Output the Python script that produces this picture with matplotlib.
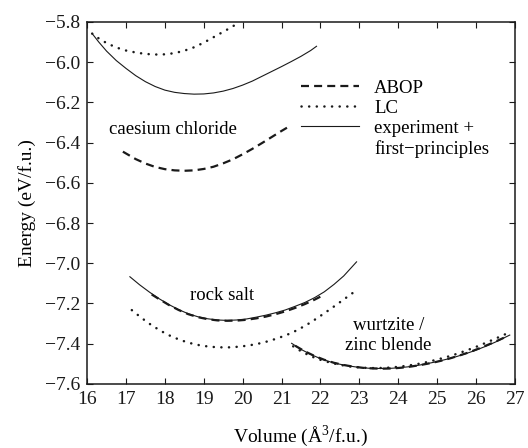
import numpy as np
import matplotlib
matplotlib.use('Agg')
import matplotlib.pyplot as plt
from matplotlib.lines import Line2D

# caesium chloride
cscl_v_abop = [16.92, 17.25, 17.5, 17.75, 18.0, 18.25, 18.5, 18.75, 19.0, 19.25,
               19.5, 19.75, 20.0, 20.25, 20.5, 20.75, 21.0, 21.14]
cscl_e_abop = [-6.445, -6.482, -6.504, -6.521, -6.532, -6.538, -6.540, -6.538, -6.531, -6.520,
               -6.503, -6.483, -6.458, -6.431, -6.402, -6.372, -6.342, -6.326]
cscl_v_lc = [16.13, 16.3, 16.5, 16.75, 17.0, 17.25, 17.5, 17.75, 18.0, 18.25,
             18.5, 18.75, 19.0, 19.25, 19.5, 19.75, 19.9]
cscl_e_lc = [-5.858, -5.882, -5.905, -5.927, -5.942, -5.952, -5.959, -5.962, -5.961, -5.955,
             -5.943, -5.926, -5.903, -5.876, -5.849, -5.822, -5.80]
cscl_v_exp = [16.13, 16.3, 16.5, 16.75, 17.0, 17.25, 17.5, 17.75, 18.0, 18.25, 18.5, 18.75,
              19.0, 19.25, 19.5, 19.75, 20.0, 20.25, 20.5, 20.75, 21.0, 21.25, 21.5, 21.75, 21.9]
cscl_e_exp = [-5.858, -5.900, -5.945, -5.992, -6.031, -6.067, -6.097, -6.121, -6.139, -6.150,
              -6.156, -6.159, -6.158, -6.153, -6.144, -6.131, -6.114, -6.094, -6.070, -6.046,
              -6.022, -5.997, -5.971, -5.942, -5.921]

# rock salt
rs_v_abop = [17.66, 17.85, 18.1, 18.35, 18.6, 18.85, 19.1, 19.35, 19.6, 19.85,
             20.1, 20.35, 20.6, 20.85, 21.1, 21.35, 21.6, 21.85, 22.03]
rs_e_abop = [-7.155, -7.178, -7.207, -7.232, -7.253, -7.268, -7.278, -7.284, -7.286, -7.285,
             -7.281, -7.274, -7.265, -7.253, -7.239, -7.222, -7.203, -7.181, -7.163]
rs_v_lc = [17.15, 17.4, 17.65, 17.9, 18.15, 18.4, 18.65, 18.9, 19.15, 19.4, 19.65, 19.9,
           20.15, 20.4, 20.65, 20.9, 21.15, 21.4, 21.65, 21.9, 22.15, 22.4, 22.65, 22.85]
rs_e_lc = [-7.233, -7.272, -7.307, -7.337, -7.362, -7.382, -7.397, -7.408, -7.415, -7.418,
           -7.418, -7.415, -7.409, -7.400, -7.388, -7.373, -7.355, -7.333, -7.306, -7.275,
           -7.242, -7.208, -7.173, -7.145]
rs_v_exp = [17.1, 17.35, 17.6, 17.85, 18.1, 18.35, 18.6, 18.85, 19.1, 19.35, 19.6, 19.85,
            20.1, 20.35, 20.6, 20.85, 21.1, 21.35, 21.6, 21.85, 22.1, 22.35, 22.6, 22.93]
rs_e_exp = [-7.067, -7.107, -7.143, -7.176, -7.205, -7.230, -7.251, -7.266, -7.276, -7.282,
            -7.284, -7.282, -7.277, -7.268, -7.258, -7.246, -7.232, -7.214, -7.195, -7.171,
            -7.142, -7.105, -7.063, -6.993]

# wurtzite / zinc blende
wz_v_abop = [21.35, 21.6, 21.85, 22.1, 22.35, 22.6, 22.85, 23.1, 23.35, 23.6, 23.85, 24.1,
             24.35, 24.6, 24.85, 25.1, 25.35, 25.6, 25.85, 26.1, 26.35, 26.6, 26.8]
wz_e_abop = [-7.410, -7.438, -7.461, -7.480, -7.495, -7.506, -7.514, -7.520, -7.523, -7.524,
             -7.523, -7.519, -7.513, -7.505, -7.496, -7.485, -7.472, -7.457, -7.441, -7.422,
             -7.402, -7.381, -7.363]
wz_v_lc = [21.3, 21.5, 21.75, 22.0, 22.25, 22.5, 22.75, 23.0, 23.25, 23.5, 23.75, 24.0,
           24.25, 24.5, 24.75, 25.0, 25.25, 25.5, 25.75, 26.0, 26.25, 26.5, 26.87]
wz_e_lc = [-7.413, -7.437, -7.462, -7.480, -7.494, -7.505, -7.513, -7.518, -7.521, -7.521,
           -7.519, -7.515, -7.509, -7.501, -7.491, -7.479, -7.466, -7.451, -7.434, -7.416,
           -7.396, -7.375, -7.343]
wz_v_exp = [21.26, 21.5, 21.75, 22.0, 22.25, 22.5, 22.75, 23.0, 23.25, 23.5, 23.75, 24.0,
            24.25, 24.5, 24.75, 25.0, 25.25, 25.5, 25.75, 26.0, 26.25, 26.5, 26.87]
wz_e_exp = [-7.398, -7.428, -7.453, -7.474, -7.490, -7.502, -7.511, -7.518, -7.522, -7.523,
            -7.523, -7.520, -7.515, -7.508, -7.499, -7.489, -7.477, -7.464, -7.449, -7.432,
            -7.413, -7.392, -7.357]

yticks = [-7.6, -7.4, -7.2, -7.0, -6.8, -6.6, -6.4, -6.2, -6.0, -5.8]
xticks = list(range(16, 28))

serif = ['Liberation Serif', 'DejaVu Serif']
plt.rcParams['font.family'] = serif
plt.rcParams['mathtext.fontset'] = 'custom'
plt.rcParams['mathtext.rm'] = 'Liberation Serif'
fs = 13.5
ink = '#1a1a1a'

dash = dict(color=ink, lw=1.6, linestyle=(0, (3.6, 2.3)))
dot = dict(color=ink, lw=1.8, linestyle=(0, (0.05, 3.0)), dash_capstyle='round')
solid = dict(color=ink, lw=0.8)

fig = plt.figure(figsize=(5.28, 4.48), dpi=100)
ax = fig.add_axes([0.165, 0.143, 0.81, 0.808])

ax.plot(cscl_v_abop, cscl_e_abop, **dash)
ax.plot(cscl_v_lc, cscl_e_lc, **dot)
ax.plot(cscl_v_exp, cscl_e_exp, **solid)
ax.plot(rs_v_abop, rs_e_abop, **dash)
ax.plot(rs_v_lc, rs_e_lc, **dot)
ax.plot(rs_v_exp, rs_e_exp, **solid)
ax.plot(wz_v_abop, wz_e_abop, **dash)
ax.plot(wz_v_lc, wz_e_lc, **dot)
ax.plot(wz_v_exp, wz_e_exp, **solid)

ax.text(16.56, -6.337, 'caesium chloride', fontsize=fs, va='center', ha='left')
ax.text(19.46, -7.158, 'rock salt', fontsize=fs, va='center', ha='center')
ax.text(23.75, -7.36, 'wurtzite /\nzinc blende', fontsize=fs, va='center', ha='center',
        multialignment='center', linespacing=1.25)

handles = [Line2D([], [], **dash), Line2D([], [], **dot), Line2D([], [], **solid),
           Line2D([], [], color='none')]
labels = ['ABOP', 'LC', 'experiment +', 'first\u2212principles']
ax.legend(handles, labels, loc='upper left', bbox_to_anchor=(0.5, 0.84), frameon=False,
          fontsize=fs, handlelength=3.1, handletextpad=0.8, labelspacing=0.15,
          borderpad=0, borderaxespad=0)

ax.set_xlim(16, 27)
ax.set_ylim(-7.6, -5.8)
ax.set_xticks(xticks)
ax.set_xticklabels([str(v) for v in xticks])
ax.set_yticks(yticks)
ax.set_yticklabels(['\u2212%.1f' % abs(v) for v in yticks])
ax.tick_params(direction='in', top=True, right=True, length=4, width=0.8,
               labelsize=fs + 0.5, colors=ink)
ax.tick_params(axis='x', pad=5)
ax.tick_params(axis='y', pad=5)
for lbl in ax.get_xticklabels() + ax.get_yticklabels():
    lbl.set_fontfamily(serif)
for s in ax.spines.values():
    s.set_linewidth(1.1)
    s.set_color(ink)

ax.set_xlabel('Volume (\u00c5$^3$/f.u.)', fontsize=fs + 0.5, labelpad=11)
ax.set_ylabel('Energy (eV/f.u.)', fontsize=fs + 0.5, labelpad=6)

fig.savefig('out.png', dpi=100)
